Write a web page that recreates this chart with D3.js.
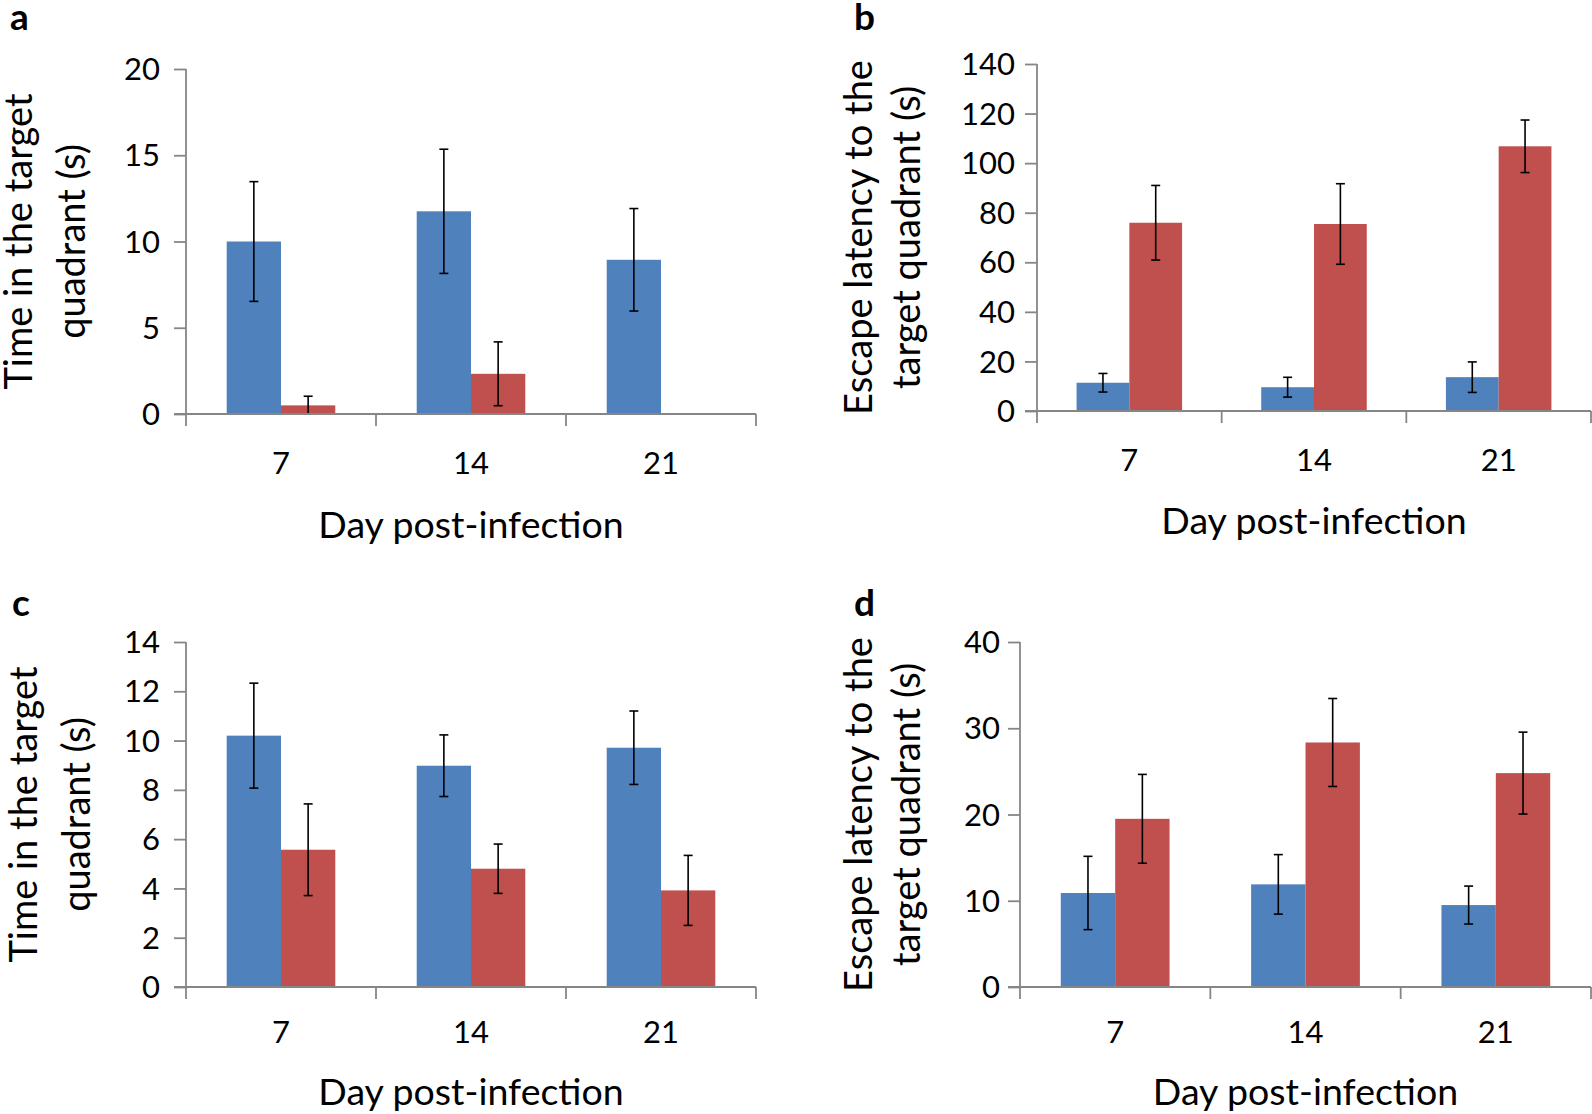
<!DOCTYPE html>
<html>
<head>
<meta charset="utf-8">
<script src="https://cdn.jsdelivr.net/npm/d3@7"></script>
<style>
  html, body { margin: 0; padding: 0; background: #fff; }
  svg { display: block; }
  text { font-family: Lato, "Open Sans", sans-serif; fill: #000; }
</style>
</head>
<body>
<svg id="chart" width="1592" height="1114"></svg>
<script>
// ---------------- DATA ----------------
const days = ["7", "14", "21"];
const seriesNames = ["Control", "Infected"];

// Panel a: time in the target quadrant (s)
const aBlue = [10.0, 11.75, 8.94];
const aBlueErr = [3.47, 3.6, 2.97];
const aRed = [0.5, 2.33, null];
const aRedErr = [0.53, 1.85, null];
const aTicks = [0, 5, 10, 15, 20];

// Panel b: escape latency (s)
const bBlue = [11.4, 9.6, 13.65];
const bBlueErr = [3.75, 4.0, 6.15];
const bRed = [75.95, 75.45, 106.8];
const bRedErr = [15.05, 16.25, 10.6];
const bTicks = [0, 20, 40, 60, 80, 100, 120, 140];

// Panel c: time in the target quadrant (s)
const cBlue = [10.2, 8.98, 9.71];
const cBlueErr = [2.13, 1.25, 1.49];
const cRed = [5.57, 4.8, 3.92];
const cRedErr = [1.86, 1.0, 1.42];
const cTicks = [0, 2, 4, 6, 8, 10, 12, 14];

// Panel d: escape latency (s)
const dBlue = [10.9, 11.9, 9.5];
const dBlueErr = [4.25, 3.45, 2.2];
const dRed = [19.5, 28.35, 24.8];
const dRedErr = [5.15, 5.1, 4.75];
const dTicks = [0, 10, 20, 30, 40];

const xTitle = "Day post-infection";
const titleTime = ["Time in the target", "quadrant (s)"];
const titleEscape = ["Escape latency to the", "target quadrant (s)"];

// ---------------- STYLE ----------------
const colors = ["#4F81BD", "#C0504D"];
const axisColor = "#868686";

// ---------------- LAYOUT ----------------
const panels = [
  { letter: "a", blue: aBlue, blueErr: aBlueErr, red: aRed, redErr: aRedErr, ticks: aTicks,
    title: titleTime, left: 186, right: 756, top: 69, bottom: 414,
    letterX: 10, letterY: 30, t1: 32, t2: 85, tickRight: 160, catY: 474, dayY: 538 },
  { letter: "b", blue: bBlue, blueErr: bBlueErr, red: bRed, redErr: bRedErr, ticks: bTicks,
    title: titleEscape, left: 1037, right: 1591, top: 64, bottom: 411,
    letterX: 854, letterY: 30, t1: 872, t2: 920, tickRight: 1015, catY: 471, dayY: 534 },
  { letter: "c", blue: cBlue, blueErr: cBlueErr, red: cRed, redErr: cRedErr, ticks: cTicks,
    title: titleTime, left: 186, right: 756, top: 642, bottom: 987,
    letterX: 12, letterY: 616, t1: 37, t2: 90, tickRight: 160, catY: 1043, dayY: 1105 },
  { letter: "d", blue: dBlue, blueErr: dBlueErr, red: dRed, redErr: dRedErr, ticks: dTicks,
    title: titleEscape, left: 1020, right: 1591, top: 642, bottom: 987,
    letterX: 854, letterY: 616, t1: 872, t2: 920, tickRight: 1000, catY: 1043, dayY: 1105 }
];

const svg = d3.select("#chart");

panels.forEach(p => {
  const g = svg.append("g");
  const yMax = d3.max(p.ticks);
  const y = d3.scaleLinear().domain([0, yMax]).range([p.bottom, p.top]);
  const x0 = d3.scaleBand().domain(days).range([p.left, p.right]).paddingInner(0).paddingOuter(0);
  const x1 = d3.scaleBand().domain(seriesNames).range([0, x0.bandwidth()]).paddingInner(0).paddingOuter(0.75);

  const rows = days.map((d, i) => ({
    day: d,
    vals: [
      { s: seriesNames[0], v: p.blue[i], e: p.blueErr[i], c: colors[0] },
      { s: seriesNames[1], v: p.red[i], e: p.redErr[i], c: colors[1] }
    ]
  }));

  // bars
  const grp = g.selectAll("g.grp").data(rows).join("g")
    .attr("transform", r => `translate(${x0(r.day)},0)`);
  grp.selectAll("rect").data(r => r.vals.filter(v => v.v != null)).join("rect")
    .attr("x", v => x1(v.s))
    .attr("width", x1.bandwidth())
    .attr("y", v => y(v.v))
    .attr("height", v => y(0) - y(v.v))
    .attr("fill", v => v.c);

  // error bars
  const cap = 4.5;
  const eb = grp.selectAll("g.err").data(r => r.vals.filter(v => v.v != null && v.e != null)).join("g")
    .attr("stroke", "#000").attr("stroke-width", 1.6);
  eb.append("line")
    .attr("x1", v => x1(v.s) + x1.bandwidth() / 2).attr("x2", v => x1(v.s) + x1.bandwidth() / 2)
    .attr("y1", v => y(v.v + v.e)).attr("y2", v => y(Math.max(0, v.v - v.e)));
  eb.append("line")
    .attr("x1", v => x1(v.s) + x1.bandwidth() / 2 - cap).attr("x2", v => x1(v.s) + x1.bandwidth() / 2 + cap)
    .attr("y1", v => y(v.v + v.e)).attr("y2", v => y(v.v + v.e));
  eb.filter(v => v.v - v.e > 0.001).append("line")
    .attr("x1", v => x1(v.s) + x1.bandwidth() / 2 - cap).attr("x2", v => x1(v.s) + x1.bandwidth() / 2 + cap)
    .attr("y1", v => y(v.v - v.e)).attr("y2", v => y(v.v - v.e));

  // y axis
  const yAxis = d3.axisLeft(y).tickValues(p.ticks).tickSize(12).tickSizeOuter(0).tickFormat("");
  const ya = g.append("g").attr("transform", `translate(${p.left},0)`).call(yAxis);
  ya.selectAll("path, line").attr("stroke", axisColor).attr("stroke-width", 1.8);
  ya.select(".domain").attr("d", `M0,${p.top}V${p.bottom}`);

  // x axis (category boundary ticks)
  const bounds = [p.left].concat(days.map(d => x0(d) + x0.bandwidth()));
  g.append("line").attr("x1", p.left - 12).attr("x2", p.right).attr("y1", y(0)).attr("y2", y(0))
    .attr("stroke", axisColor).attr("stroke-width", 1.8);
  g.selectAll("line.xt").data(bounds).join("line").attr("class", "xt")
    .attr("x1", b => b).attr("x2", b => b)
    .attr("y1", y(0)).attr("y2", y(0) + 12)
    .attr("stroke", axisColor).attr("stroke-width", 1.8);

  // tick labels
  g.selectAll("text.yt").data(p.ticks).join("text").attr("class", "yt")
    .attr("x", p.tickRight).attr("y", t => y(t)).attr("dy", "0.36em")
    .attr("text-anchor", "end").attr("font-size", 31)
    .text(t => t);
  g.selectAll("text.xl").data(days).join("text").attr("class", "xl")
    .attr("x", d => x0(d) + x0.bandwidth() / 2).attr("y", p.catY)
    .attr("text-anchor", "middle").attr("font-size", 31)
    .text(d => d);

  // x title
  g.append("text").attr("x", (p.left + p.right) / 2).attr("y", p.dayY)
    .attr("text-anchor", "middle").attr("font-size", 37.5).text(xTitle);

  // y title (two lines)
  const cy = (p.top + p.bottom) / 2;
  [p.t1, p.t2].forEach((bx, i) => {
    g.append("text").attr("transform", `translate(${bx},${cy}) rotate(-90)`)
      .attr("text-anchor", "middle").attr("font-size", 38).text(p.title[i]);
  });

  // panel letter
  g.append("text").attr("x", p.letterX).attr("y", p.letterY)
    .attr("font-family", "'Liberation Sans', Arial, sans-serif").attr("font-weight", "bold")
    .attr("font-size", 37).text(p.letter);
});
</script>
</body>
</html>
